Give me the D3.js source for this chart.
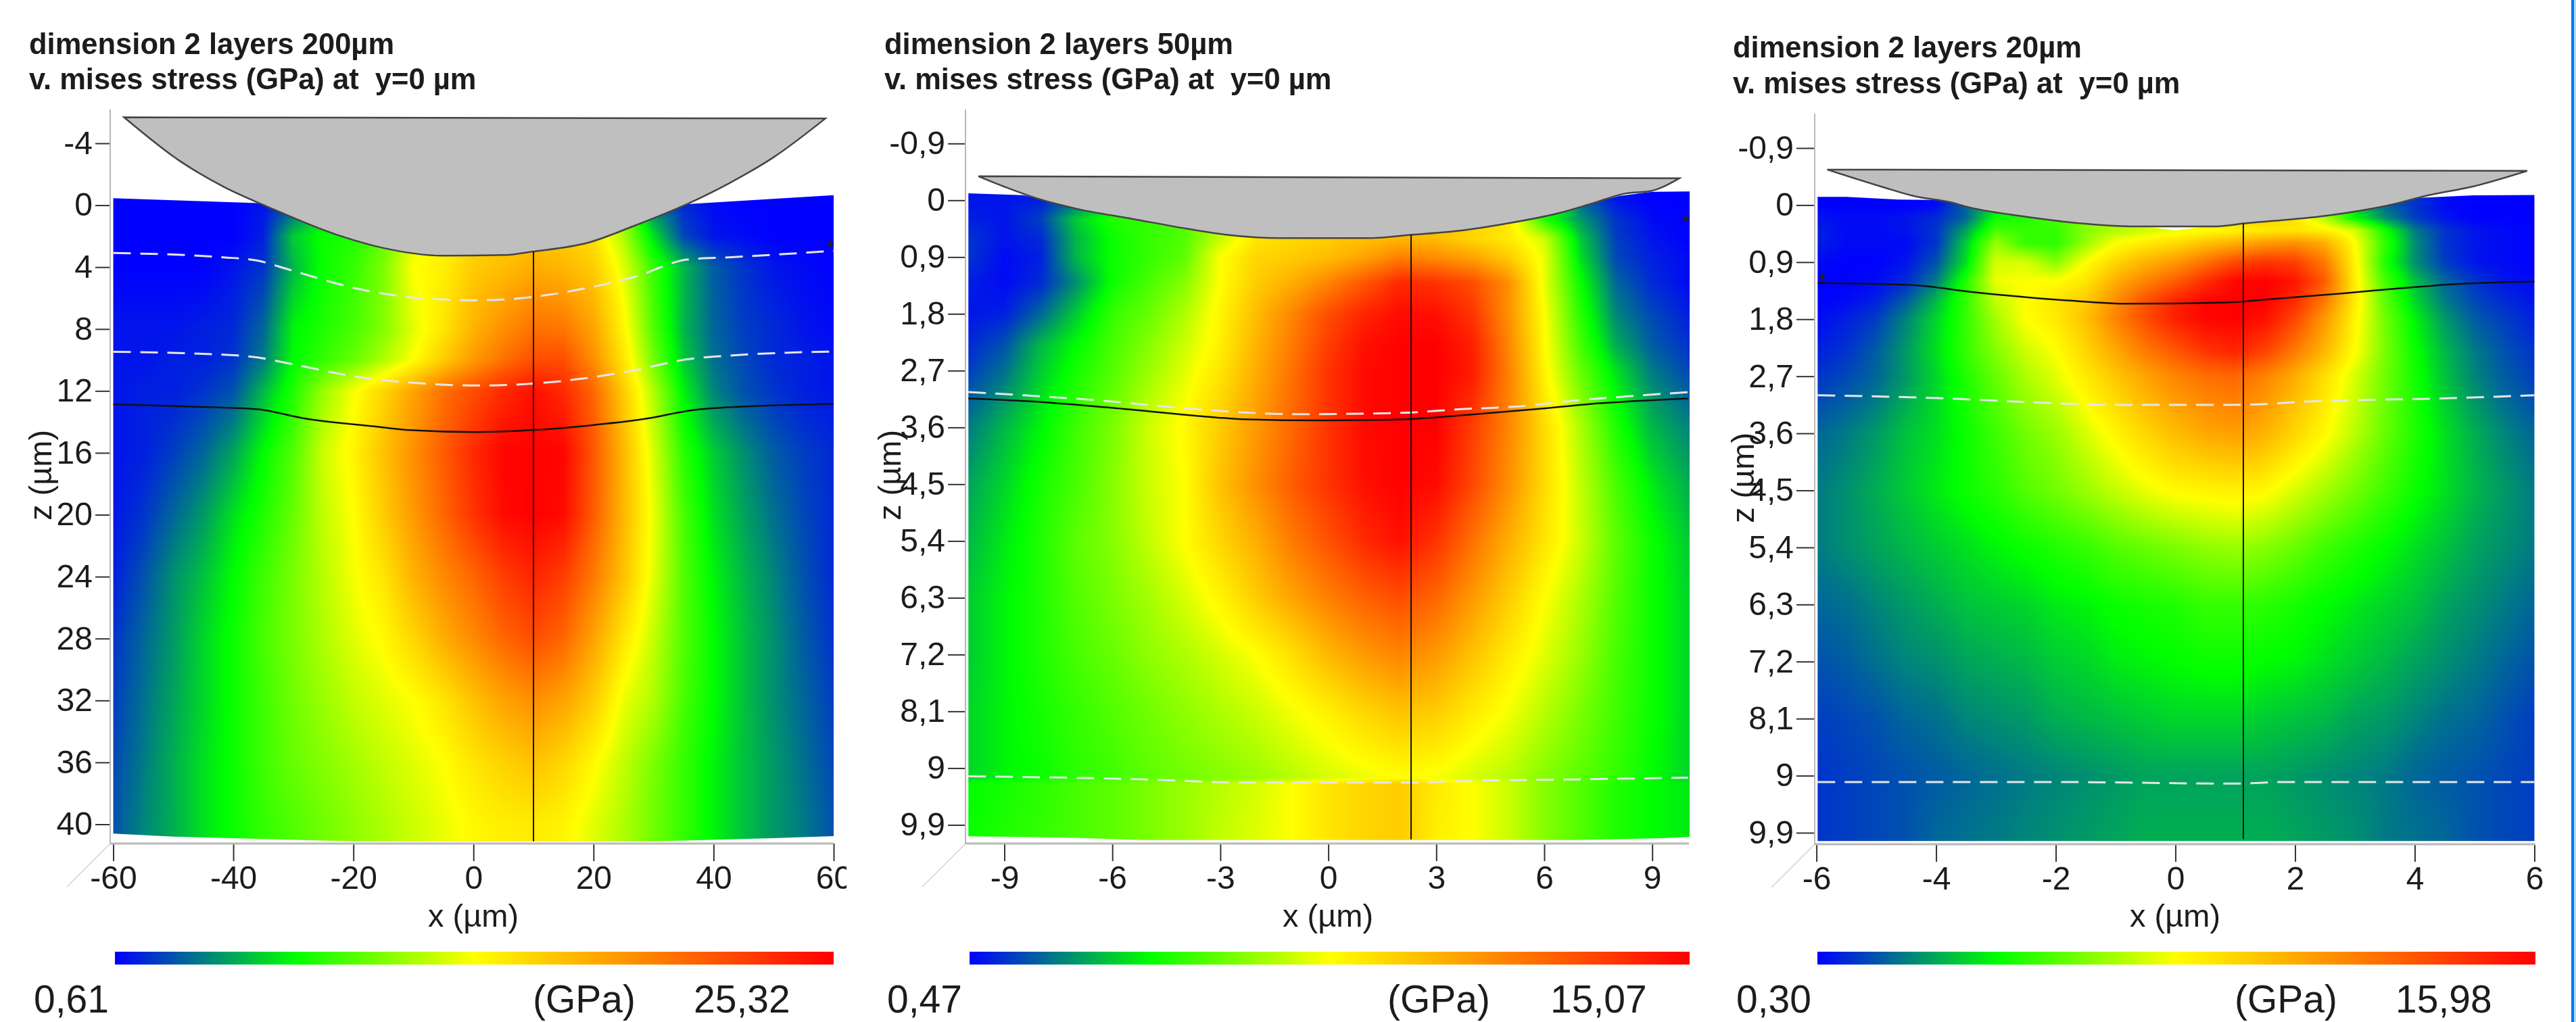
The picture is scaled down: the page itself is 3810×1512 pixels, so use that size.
<!DOCTYPE html>
<html>
<head>
<meta charset="utf-8">
<script src="https://cdn.jsdelivr.net/npm/d3@7"></script>
<style>
  html, body { margin: 0; padding: 0; background: #fff; }
  #chart { position: relative; width: 3810px; height: 1512px; overflow: hidden; }
  canvas, svg { position: absolute; left: 0; top: 0; }
  text { font-family: "Liberation Sans", Arial, sans-serif; fill: #1c1c1c; white-space: pre; }
</style>
</head>
<body>
<div id="chart"></div>
<script>
let titles = ["dimension 2 layers 200µm", "dimension 2 layers 50µm", "dimension 2 layers 20µm"];
let subtitle = "v. mises stress (GPa) at  y=0 µm";
let barMin = ["0,61", "0,47", "0,30"];
let barMax = ["25,32", "15,07", "15,98"];

let xTicks1 = [-60, -40, -20, 0, 20, 40, 60];
let xTicks2 = [-9, -6, -3, 0, 3, 6, 9];
let xTicks3 = [-6, -4, -2, 0, 2, 4, 6];
let zTicks1 = [-4, 0, 4, 8, 12, 16, 20, 24, 28, 32, 36, 40];
let zTicks2 = [-0.9, 0, 0.9, 1.8, 2.7, 3.6, 4.5, 5.4, 6.3, 7.2, 8.1, 9, 9.9];
let zTicks3 = zTicks2;

// panel 1, 200 µm
let gridX1 = [-60, -55, -50, -45, -40, -35, -30, -25, -20, -15, -10, -5, 0, 5, 10, 15, 20, 25, 30, 35, 40, 45, 50, 55, 60];
let gridZ1 = [0, 2, 4, 8, 10, 12, 16, 20, 24, 28, 32, 36, 40];
let levels1 = [
  [0, 0, 0, 0, 0, 2, 8, 20, 25, 30, 40, 50, 55, 58, 60, 56, 50, 35, 12, 4, 1, 0, 0, 0, 0],
  [0, 0, 0, 0, 0, 3, 20, 26, 28, 34, 46, 52, 58, 60, 62, 60, 56, 42, 22, 7, 2, 1, 0, 0, 0],
  [0, 0, 0, 0, 2, 5, 18, 26, 30, 37, 50, 53, 60, 63, 66, 64, 60, 47, 30, 18, 9, 5, 2, 1, 0],
  [2, 2, 2, 3, 4, 10, 24, 28, 32, 38, 47, 55, 65, 72, 78, 77, 68, 52, 33, 18, 10, 6, 4, 2, 1],
  [2, 2, 3, 3, 5, 12, 25, 30, 35, 42, 50, 60, 70, 78, 85, 85, 72, 55, 36, 20, 11, 7, 4, 3, 2],
  [2, 3, 3, 5, 8, 18, 28, 40, 49, 58, 68, 78, 85, 92, 97, 92, 80, 60, 42, 24, 13, 8, 5, 3, 2],
  [2, 3, 6, 10, 16, 25, 33, 45, 52, 62, 72, 82, 92, 99, 100, 99, 83, 64, 46, 29, 20, 14, 9, 6, 4],
  [2, 5, 10, 15, 22, 28, 35, 44, 50, 60, 70, 80, 90, 98, 100, 98, 82, 64, 48, 32, 22, 16, 11, 7, 4],
  [3, 8, 14, 19, 25, 31, 37, 43, 49, 55, 65, 73, 80, 88, 93, 88, 76, 62, 47, 33, 24, 18, 13, 8, 4],
  [5, 10, 15, 21, 26, 32, 37, 42, 47, 51, 58, 66, 73, 80, 85, 80, 68, 55, 44, 33, 25, 19, 14, 9, 5],
  [6, 11, 16, 21, 26, 31, 36, 40, 44, 47, 50, 55, 62, 68, 72, 68, 60, 48, 42, 32, 25, 19, 14, 10, 6],
  [7, 12, 17, 22, 26, 31, 35, 38, 41, 44, 47, 50, 55, 59, 62, 58, 51, 44, 37, 30, 24, 19, 15, 11, 7],
  [8, 13, 17, 22, 26, 30, 33, 36, 39, 42, 45, 48, 51, 53, 54, 52, 47, 42, 36, 30, 24, 19, 15, 12, 8]
];
let topEdge1 = [[-60, -0.45], [-35, -0.12], [0, 2], [36, -0.08], [60, -0.65]];
let bottomEdge1 = [[-60, 40.6], [-50, 40.8], [-20, 41.1], [30, 41.1], [50, 40.9], [60, 40.76]];
let indenterX1 = [-58.2, -49, -41.6, -34.1, -22.9, -15.4, -5.1, 5.1, 9.8, 19.1, 26.6, 35.9, 42.5, 50, 58.6];
let indenterZ1 = [-5.68, -2.88, -1.19, 0.13, 1.89, 2.73, 3.26, 3.22, 3, 2.42, 1.36, -0.13, -1.4, -3.1, -5.6];
let dashA1 = [[-60, 3.09], [-41.6, 3.37], [-36, 3.58], [-30.4, 4.2], [-19.2, 5.4], [-8, 6.03], [0.5, 6.14], [9.8, 5.93], [18.2, 5.4], [26.6, 4.66], [35.9, 3.5], [42.5, 3.37], [60, 2.95]];
let dashB1 = [[-60, 9.47], [-41.6, 9.66], [-36, 9.83], [-30.4, 10.25], [-19.2, 11.1], [-8, 11.53], [0.5, 11.65], [9.8, 11.53], [18.2, 11.2], [26.6, 10.68], [35.9, 9.94], [42.5, 9.72], [60, 9.45]];
let solid1 = [[-60, 12.86], [-48, 13], [-36, 13.18], [-28.5, 13.75], [-15.4, 14.34], [-10.7, 14.53], [0.5, 14.66], [9.8, 14.53], [19.1, 14.24], [28.5, 13.81], [37.8, 13.18], [60, 12.84]];
let probe1 = {x: 10, z0: 3, z1: 41.1};
let mark1 = [59.5, 2.5];

// panel 2, 50 µm
let gridX2 = [-10, -9, -8, -7, -6, -5, -4, -3, -2, -1, 0, 1, 2, 3, 4, 5, 6, 7, 8, 9, 10];
let gridZ2 = [0, 0.3, 0.6, 0.9, 1.3, 1.8, 2.3, 2.7, 3.6, 4.5, 5.4, 6.3, 7.2, 8.1, 9.15, 9.25, 10.2];
let levels2 = [
  [2, 2, 3, 10, 20, 25, 30, 40, 50, 55, 58, 60, 62, 62, 60, 55, 40, 10, 2, 0, 0],
  [3, 2, 6, 20, 28, 30, 32, 42, 52, 57, 60, 62, 64, 63, 60, 55, 28, 15, 5, 1, 0],
  [5, 2, 4, 18, 26, 30, 33, 44, 55, 58, 60, 62, 64, 63, 58, 54, 45, 20, 6, 2, 0],
  [5, 1, 3, 18, 26, 30, 34, 50, 58, 60, 63, 68, 75, 72, 68, 60, 48, 22, 7, 3, 1],
  [3, 1, 4, 14, 26, 32, 38, 50, 60, 66, 74, 83, 92, 90, 85, 72, 48, 26, 10, 4, 1],
  [2, 3, 10, 20, 30, 35, 42, 52, 63, 74, 85, 93, 98, 97, 90, 72, 50, 29, 13, 7, 3],
  [4, 8, 18, 25, 32, 38, 45, 53, 65, 76, 88, 97, 100, 100, 94, 74, 51, 32, 17, 9, 5],
  [6, 11, 20, 27, 33, 40, 47, 55, 66, 78, 90, 98, 100, 100, 95, 75, 52, 35, 22, 12, 7],
  [12, 18, 24, 31, 37, 45, 51, 60, 70, 80, 90, 98, 100, 100, 88, 74, 57, 42, 28, 18, 13],
  [16, 21, 27, 32, 38, 45, 50, 62, 72, 82, 90, 97, 100, 98, 86, 72, 57, 44, 32, 23, 17],
  [18, 23, 28, 34, 38, 44, 50, 58, 66, 76, 84, 92, 97, 90, 78, 66, 55, 45, 34, 26, 20],
  [20, 24, 28, 33, 37, 41, 46, 52, 60, 68, 75, 81, 85, 80, 70, 60, 50, 42, 33, 26, 21],
  [20, 24, 28, 32, 35, 39, 42, 46, 50, 56, 64, 70, 74, 70, 62, 54, 47, 40, 32, 26, 21],
  [21, 24, 27, 30, 33, 36, 39, 42, 45, 49, 53, 58, 62, 60, 54, 49, 43, 37, 31, 26, 21],
  [21, 24, 26, 29, 31, 34, 36, 38, 40, 43, 46, 48, 50, 49, 46, 43, 38, 34, 30, 25, 21],
  [25, 27, 29, 32, 34, 37, 40, 43, 46, 50, 55, 58, 60, 54, 50, 45, 38, 33, 28, 25, 23],
  [26, 28, 30, 32, 34, 37, 40, 44, 47, 50, 55, 58, 60, 53, 50, 45, 38, 33, 28, 25, 23]
];
let topEdge2 = [[-10, -0.11], [-8.47, -0.08], [-7.86, 0], [0, 0.5], [7.35, 0.036], [8.1, -0.07], [9, -0.135], [10.04, -0.14]];
let bottomEdge2 = [[-10, 10.08], [-7.4, 10.1], [-5.13, 10.14], [6.9, 10.14], [9.3, 10.11], [10.04, 10.09]];
let indenterX2 = [-9.72, -8.93, -8.02, -6.95, -5.43, -3.91, -2.84, -1.32, 1.11, 2.33, 3.7, 4.9, 6.43, 7.35, 8.26, 8.94, 9.75];
let indenterZ2 = [-0.38, -0.2, -0.016, 0.14, 0.296, 0.452, 0.546, 0.6, 0.6, 0.546, 0.478, 0.374, 0.2, 0.047, -0.109, -0.145, -0.348];
let dashA2 = [[-10, 3.04], [-8.47, 3.09], [-6.19, 3.18], [-3.91, 3.3], [-0.87, 3.39], [2.02, 3.37], [3.7, 3.31], [5.22, 3.27], [6.74, 3.18], [8.26, 3.11], [10, 3.04]];
let dashB2 = [[-10, 9.13], [-5, 9.18], [-2.4, 9.23], [2.2, 9.23], [4.1, 9.2], [6.7, 9.18], [10, 9.15]];
let solid2 = [[-10, 3.14], [-8.47, 3.18], [-6.19, 3.28], [-3.15, 3.44], [-2.39, 3.47], [-0.11, 3.49], [2.17, 3.47], [3.7, 3.41], [5.98, 3.3], [7.5, 3.22], [10, 3.14]];
let probe2 = {x: 2.3, z0: 0.546, z1: 10.13};
let mark2 = [9.93, 0.286];

// panel 3, 20 µm
let gridX3 = [-6, -5.5, -5, -4.5, -4, -3.5, -3, -2.5, -2, -1.5, -1, -0.5, 0, 0.5, 1, 1.5, 2, 2.5, 3, 3.5, 4, 4.5, 5, 5.5, 6];
let gridZ3 = [0, 0.2, 0.4, 0.6, 0.9, 1.2, 1.5, 1.8, 2.3, 2.7, 3.6, 4.5, 5.4, 6.3, 7.2, 8.1, 9, 9.9];
let levels3 = [
  [0, 0, 0, 0, 1, 10, 20, 25, 30, 35, 40, 45, 50, 52, 55, 55, 50, 40, 20, 10, 5, 1, 0, 0, 0],
  [2, 1, 1, 2, 4, 10, 26, 28, 32, 38, 44, 48, 52, 60, 60, 60, 55, 42, 25, 14, 6, 2, 0, 0, 0],
  [3, 1, 1, 2, 5, 16, 32, 30, 30, 38, 42, 45, 48, 50, 52, 54, 55, 53, 46, 27, 12, 5, 2, 1, 0],
  [3, 1, 1, 1, 5, 20, 40, 30, 29, 40, 50, 54, 57, 62, 66, 70, 72, 66, 50, 30, 14, 5, 2, 1, 0],
  [1, 0, 0, 2, 8, 22, 46, 46, 38, 50, 58, 65, 70, 78, 86, 90, 88, 76, 52, 28, 14, 6, 2, 1, 0],
  [0, 0, 1, 4, 12, 28, 48, 50, 50, 55, 66, 74, 82, 91, 99, 100, 96, 82, 53, 32, 19, 10, 5, 2, 1],
  [0, 1, 3, 9, 18, 30, 44, 50, 55, 60, 72, 84, 93, 99, 100, 100, 92, 76, 54, 34, 21, 12, 7, 4, 2],
  [1, 3, 6, 13, 21, 30, 41, 50, 54, 62, 74, 85, 94, 99, 100, 97, 86, 70, 52, 36, 24, 15, 9, 6, 3],
  [3, 5, 9, 15, 22, 30, 38, 45, 50, 58, 67, 76, 83, 90, 93, 87, 76, 64, 50, 37, 26, 18, 12, 8, 5],
  [5, 7, 10, 15, 21, 28, 35, 42, 47, 54, 61, 68, 74, 78, 80, 74, 66, 56, 46, 36, 27, 19, 13, 9, 6],
  [10, 12, 15, 19, 22, 26, 31, 36, 40, 46, 52, 58, 63, 67, 69, 65, 58, 51, 43, 35, 28, 22, 17, 13, 10],
  [12, 14, 17, 20, 23, 26, 29, 33, 36, 40, 44, 48, 51, 52, 53, 51, 46, 41, 36, 31, 26, 22, 18, 15, 12],
  [12, 14, 16, 18, 20, 22, 24, 26, 28, 30, 33, 35, 37, 39, 40, 38, 35, 31, 28, 25, 22, 19, 16, 14, 12],
  [10, 11, 13, 15, 17, 19, 20, 21, 23, 24, 26, 27, 28, 30, 30, 29, 27, 25, 23, 21, 19, 16, 14, 12, 10],
  [8, 9, 11, 13, 14, 16, 17, 18, 20, 21, 23, 24, 25, 26, 26, 25, 24, 22, 20, 18, 16, 14, 12, 10, 8],
  [6, 7, 8, 10, 11, 13, 14, 15, 17, 18, 19, 20, 21, 21, 21, 20, 19, 18, 16, 15, 13, 11, 10, 8, 6],
  [5, 6, 7, 8, 9, 10, 11, 12, 13, 14, 15, 16, 16, 16, 16, 16, 15, 14, 13, 12, 10, 9, 8, 7, 6],
  [5, 6, 7, 8, 10, 11, 12, 13, 14, 15, 16, 17, 17, 17, 17, 17, 16, 15, 14, 12, 11, 10, 8, 7, 6]
];
let topEdge3 = [[-5.98, -0.13], [-5.5, -0.13], [-4.63, -0.088], [-3.81, -0.078], [0, 0.4], [4.06, -0.114], [4.98, -0.155], [6, -0.16]];
let bottomEdge3 = [[-5.98, 10.03], [6, 10.03]];
let indenterX3 = [-5.82, -4.91, -4.36, -3.72, -3.53, -2.53, -1.43, -0.7, 0.68, 1.14, 2.51, 3.7, 4.16, 4.98, 5.88];
let indenterZ3 = [-0.56, -0.29, -0.14, -0.036, 0.016, 0.18, 0.3, 0.336, 0.336, 0.29, 0.17, -0.026, -0.14, -0.295, -0.54];
let dashA3 = [[-5.98, 3], [-3.81, 3.05], [-2.16, 3.12], [-1.24, 3.15], [1.04, 3.15], [2.42, 3.09], [4.43, 3.05], [6, 3]];
let dashB3 = [[-5.98, 9.1], [-2.08, 9.1], [1.04, 9.125], [1.77, 9.1], [6, 9.1]];
let solid3 = [[-5.98, 1.23], [-4.45, 1.26], [-3.35, 1.375], [-1.79, 1.505], [-0.79, 1.556], [0.77, 1.54], [1.5, 1.49], [2.87, 1.386], [3.79, 1.31], [4.7, 1.246], [6, 1.205]];
let probe3 = {x: 1.135, z0: 0.29, z1: 10};
let mark3 = [-5.9, 1.14];

// page layout for each panel
let layouts = [
  {xPx: [167.5, 1233], zPx: [212, 1219.5], axisX: 163, axisTop: 162, axisY: 1248, axisRight: 1233, tick: 22,
   titleX: 43, titleY: [80, 132], zLabel: [76, 703], xLabel: 700, clipRight: 1252,
   bar: [170, 1233], barText: [50, 788, 1026]},
  {xPx: [1485.5, 2443.7], zPx: [212.3, 1220.4], axisX: 1428, axisTop: 162, axisY: 1248, axisRight: 2498, tick: 26,
   titleX: 1308, titleY: [80, 132], zLabel: [1332, 703], xLabel: 1964, clipRight: 2520,
   bar: [1434, 2499], barText: [1312, 2052, 2293]},
  {xPx: [2686.6, 3748.5], zPx: [219, 1232], axisX: 2684, axisTop: 168, axisY: 1249, axisRight: 3750, tick: 27,
   titleX: 2563, titleY: [85, 138], zLabel: [2594, 707], xLabel: 3217, clipRight: 3790,
   bar: [2688, 3750], barText: [2568, 3305, 3543]}
];

let panels = [
  {gridX: gridX1, gridZ: gridZ1, levels: levels1, xTicks: xTicks1, zTicks: zTicks1, topEdge: topEdge1, bottomEdge: bottomEdge1,
   indenterX: indenterX1, indenterZ: indenterZ1, dashes: [dashA1, dashB1], solid: solid1, probe: probe1, mark: mark1},
  {gridX: gridX2, gridZ: gridZ2, levels: levels2, xTicks: xTicks2, zTicks: zTicks2, topEdge: topEdge2, bottomEdge: bottomEdge2,
   indenterX: indenterX2, indenterZ: indenterZ2, dashes: [dashA2, dashB2], solid: solid2, probe: probe2, mark: mark2},
  {gridX: gridX3, gridZ: gridZ3, levels: levels3, xTicks: xTicks3, zTicks: zTicks3, topEdge: topEdge3, bottomEdge: bottomEdge3,
   indenterX: indenterX3, indenterZ: indenterZ3, dashes: [dashA3, dashB3], solid: solid3, probe: probe3, mark: mark3}
];

let size = {width: 3810, height: 1512};
let color = d3.scaleLinear().domain([0, 25, 50, 100]).range(["#0000ff", "#00ff00", "#ffff00", "#ff0000"]).clamp(true);
let comma = d => String(d).replace(".", ",");

let chart = d3.select("#chart");
let canvas = chart.append("canvas").attr("width", size.width).attr("height", size.height);
let ctx = canvas.node().getContext("2d");
let svg = chart.append("svg").attr("width", size.width).attr("height", size.height);

// legend gradient, stops taken from the colour scale
let grad = svg.append("defs").append("linearGradient").attr("id", "bar");
grad.selectAll("stop").data(color.domain()).join("stop")
    .attr("offset", d => d + "%")
    .attr("stop-color", d => color(d));

// value at a point of the grid, shaded between the read nodes
function levelAt(p, x, z) {
    let i = Math.min(Math.max(d3.bisectRight(p.gridX, x) - 1, 0), p.gridX.length - 2);
    let j = Math.min(Math.max(d3.bisectRight(p.gridZ, z) - 1, 0), p.gridZ.length - 2);
    let u = Math.min(Math.max((x - p.gridX[i]) / (p.gridX[i + 1] - p.gridX[i]), 0), 1);
    let v = Math.min(Math.max((z - p.gridZ[j]) / (p.gridZ[j + 1] - p.gridZ[j]), 0), 1);
    let a = p.levels[j][i] * (1 - u) + p.levels[j][i + 1] * u;
    let b = p.levels[j + 1][i] * (1 - u) + p.levels[j + 1][i + 1] * u;
    return a * (1 - v) + b * v;
}

// colours looked up once, per-pixel d3.color calls are slow
let lut = d3.range(1001).map(i => d3.rgb(color(i / 10)));

function drawField(p, xScale, zScale) {
    let edge = p.topEdge.concat(p.bottomEdge.slice().reverse());
    let x0 = Math.floor(xScale(d3.min(edge, d => d[0]))), x1 = Math.ceil(xScale(d3.max(edge, d => d[0])));
    let y0 = Math.floor(zScale(d3.min(edge, d => d[1]))), y1 = Math.ceil(zScale(d3.max(edge, d => d[1])));
    let w = x1 - x0, h = y1 - y0;
    let off = document.createElement("canvas");
    off.width = w; off.height = h;
    let octx = off.getContext("2d");
    let img = octx.createImageData(w, h);
    for (let py = 0; py < h; py++) {
        let z = zScale.invert(y0 + py + 0.5);
        for (let px = 0; px < w; px++) {
            let c = lut[Math.round(levelAt(p, xScale.invert(x0 + px + 0.5), z) * 10)];
            let k = (py * w + px) * 4;
            img.data[k] = c.r; img.data[k + 1] = c.g; img.data[k + 2] = c.b; img.data[k + 3] = 255;
        }
    }
    octx.putImageData(img, 0, 0);
    ctx.save();
    ctx.beginPath();
    d3.line().x(d => xScale(d[0])).y(d => zScale(d[1])).context(ctx)(edge);
    ctx.closePath();
    ctx.clip();
    ctx.drawImage(off, x0, y0);
    ctx.restore();
}

panels.forEach((p, n) => {
    let l = layouts[n];
    let xScale = d3.scaleLinear().domain(d3.extent(p.xTicks)).range(l.xPx);
    let zScale = d3.scaleLinear().domain(d3.extent(p.zTicks)).range(l.zPx);
    let toPath = d3.line().x(d => xScale(d[0])).y(d => zScale(d[1])).curve(d3.curveMonotoneX);

    drawField(p, xScale, zScale);

    let g = svg.append("g").attr("class", "panel");

    // indenter
    let tip = p.indenterX.map((x, i) => [x, p.indenterZ[i]]);
    g.append("path").attr("d", toPath(tip) + "Z")
        .attr("fill", "#bfbfbf").attr("stroke", "#444").attr("stroke-width", 2.5);

    // layer boundaries
    g.selectAll(".dash").data(p.dashes).join("path").attr("class", "dash")
        .attr("d", toPath).attr("fill", "none")
        .attr("stroke", "#e6e6e6").attr("stroke-width", 3).attr("stroke-dasharray", "26 14");
    g.append("path").attr("d", toPath(p.solid)).attr("fill", "none")
        .attr("stroke", "#111").attr("stroke-width", 2.5);
    g.append("line")
        .attr("x1", xScale(p.probe.x)).attr("x2", xScale(p.probe.x))
        .attr("y1", zScale(p.probe.z0)).attr("y2", zScale(p.probe.z1))
        .attr("stroke", "#111").attr("stroke-width", 2);
    g.append("path").attr("d", d3.symbol(d3.symbolCross, 50)())
        .attr("transform", `translate(${xScale(p.mark[0])},${zScale(p.mark[1])})`)
        .attr("fill", "#222");

    // axes
    let clipId = "clip" + n;
    svg.select("defs").append("clipPath").attr("id", clipId).append("rect")
        .attr("x", l.axisX - 120).attr("y", 0).attr("width", l.clipRight - l.axisX + 120).attr("height", size.height);

    let xAxis = g.append("g").attr("clip-path", `url(#${clipId})`).append("g")
        .attr("transform", `translate(0,${l.axisY})`)
        .call(d3.axisBottom(xScale).tickValues(p.xTicks).tickFormat(comma).tickSize(26).tickSizeOuter(0).tickPadding(7));
    let zAxis = g.append("g").attr("transform", `translate(${l.axisX},0)`)
        .call(d3.axisLeft(zScale).tickValues(p.zTicks).tickFormat(comma).tickSize(l.tick).tickSizeOuter(0).tickPadding(4));
    [xAxis, zAxis].forEach(a => {
        a.select(".domain").remove();
        a.selectAll(".tick line").attr("stroke", "#333").attr("stroke-width", 2);
        a.selectAll(".tick text").attr("font-size", 48).attr("fill", "#1c1c1c")
            .style("font-family", '"Liberation Sans", Arial, sans-serif');
    });

    g.append("line").attr("x1", l.axisX).attr("x2", l.axisRight).attr("y1", l.axisY).attr("y2", l.axisY)
        .attr("stroke", "#b8b8b8").attr("stroke-width", 3);
    g.append("line").attr("x1", l.axisX).attr("x2", l.axisX).attr("y1", l.axisTop).attr("y2", l.axisY)
        .attr("stroke", "#b8b8b8").attr("stroke-width", 2);
    g.append("line").attr("x1", l.axisX).attr("x2", l.axisX - 64).attr("y1", l.axisY).attr("y2", l.axisY + 64)
        .attr("stroke", "#d4d4d4").attr("stroke-width", 1.5);

    // text
    g.append("text").attr("x", l.titleX).attr("y", l.titleY[0]).attr("font-size", 43.5).attr("font-weight", "bold").text(titles[n]);
    g.append("text").attr("x", l.titleX).attr("y", l.titleY[1]).attr("font-size", 43.5).attr("font-weight", "bold").text(subtitle);
    g.append("text").attr("x", l.xLabel).attr("y", 1371).attr("text-anchor", "middle").attr("font-size", 47).text("x (µm)");
    g.append("text").attr("text-anchor", "middle").attr("font-size", 47)
        .attr("transform", `translate(${l.zLabel[0]},${l.zLabel[1]}) rotate(-90)`).text("z (µm)");

    // colour bar
    g.append("rect").attr("x", l.bar[0]).attr("y", 1408).attr("width", l.bar[1] - l.bar[0]).attr("height", 19).attr("fill", "url(#bar)");
    [barMin[n], "(GPa)", barMax[n]].forEach((t, i) => {
        g.append("text").attr("x", l.barText[i]).attr("y", 1498).attr("font-size", 57).text(t);
    });
});

// page border on the right edge
svg.append("rect").attr("x", 3803).attr("y", 0).attr("width", 4).attr("height", size.height).attr("fill", "#0a78e6");
svg.append("rect").attr("x", 3807).attr("y", 0).attr("width", 3).attr("height", size.height).attr("fill", "#a9d8fb");
</script>
</body>
</html>
